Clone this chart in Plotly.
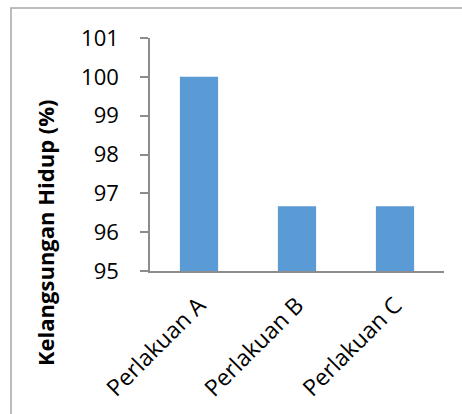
import plotly.graph_objects as go

# Survival rate per treatment
categories = ["Perlakuan A", "Perlakuan B", "Perlakuan C"]
survival = [100.0, 96.67, 96.67]
y_ticks = [95, 96, 97, 98, 99, 100, 101]

W, H = 462, 414
L, R, T, B = 150, 18, 38, 143
pw, ph = W - L - R, H - T - B

fig = go.Figure(
    go.Bar(
        x=categories,
        y=survival,
        marker=dict(color="#5B9BD5", line=dict(width=0)),
        width=0.39,
    )
)

axis_color = "#8c8c8c"
fig.update_layout(
    width=W,
    height=H,
    margin=dict(l=L, r=R, t=T, b=B, pad=0),
    paper_bgcolor="white",
    plot_bgcolor="white",
    showlegend=False,
    font=dict(family="Open Sans, Liberation Sans, sans-serif", color="black"),
    xaxis=dict(
        showline=True,
        linecolor=axis_color,
        linewidth=1.5,
        ticks="",
        tickangle=-45,
        tickfont=dict(size=23),
        ticklabelstandoff=10,
        showgrid=False,
        zeroline=False,
    ),
    yaxis=dict(
        range=[95, 101],
        tickvals=y_ticks,
        showline=True,
        linecolor=axis_color,
        linewidth=1.5,
        ticks="outside",
        ticklen=8,
        tickcolor=axis_color,
        tickwidth=1.5,
        tickfont=dict(size=22),
        ticklabelstandoff=17,
        showgrid=False,
        zeroline=False,
    ),
)

# Baseline continues through the 95 tick
fig.add_shape(
    type="line",
    xref="paper",
    yref="y",
    x0=-8 / pw,
    x1=0,
    y0=95,
    y1=95,
    line=dict(color=axis_color, width=1.5),
)

# Axis title
fig.add_annotation(
    text="<b>Kelangsungan Hidup (%)</b>",
    xref="paper",
    yref="paper",
    x=(45 - L) / pw,
    y=1 - (233 - T) / ph,
    textangle=-90,
    showarrow=False,
    font=dict(size=22, family="Open Sans, Liberation Sans, sans-serif"),
    xanchor="center",
    yanchor="middle",
)

# Chart frame
fig.add_shape(
    type="rect",
    xref="paper",
    yref="paper",
    x0=(11 - L) / pw,
    x1=1.5,
    y0=-1.5,
    y1=1 + (T - 8) / ph,
    line=dict(color="#a6a6a6", width=1.5),
    layer="below",
)

fig.write_html("out.html")
